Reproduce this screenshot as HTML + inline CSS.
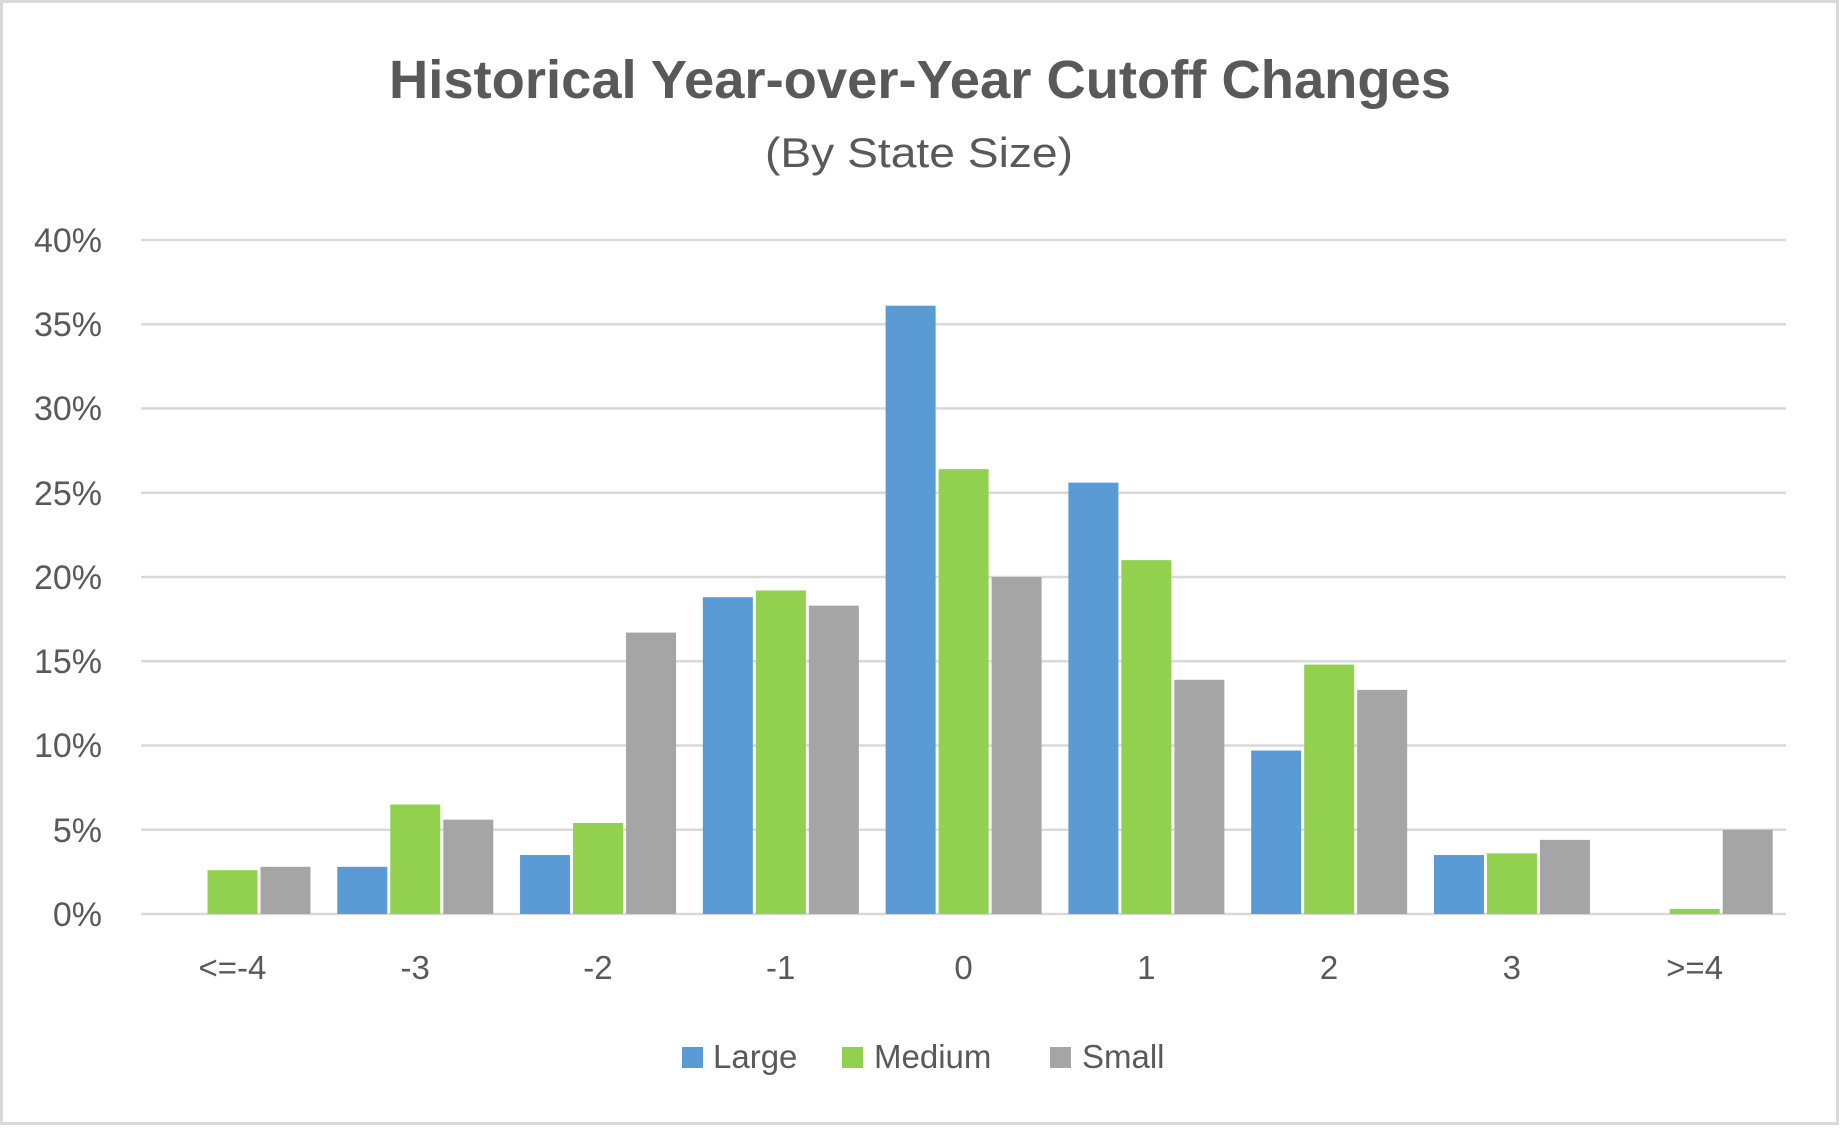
<!DOCTYPE html>
<html><head><meta charset="utf-8"><style>
html,body{margin:0;padding:0;background:#fff;}
svg{display:block;font-family:"Liberation Sans",sans-serif;}
</style></head><body>
<svg width="1842" height="1132" viewBox="0 0 1842 1132" xmlns="http://www.w3.org/2000/svg">
<rect x="1.5" y="1.5" width="1836" height="1122" fill="#fff" stroke="#d9d9d9" stroke-width="3"/>
<text x="920" y="98" text-anchor="middle" font-size="54" font-weight="bold" fill="#595959" textLength="1062" lengthAdjust="spacingAndGlyphs">Historical Year-over-Year Cutoff Changes</text>
<text x="919" y="167" text-anchor="middle" font-size="42" fill="#595959" textLength="308" lengthAdjust="spacingAndGlyphs">(By State Size)</text>
<g stroke="#d9d9d9" stroke-width="2.5">
<line x1="141" x2="1786" y1="240" y2="240"/>
<line x1="141" x2="1786" y1="324.25" y2="324.25"/>
<line x1="141" x2="1786" y1="408.5" y2="408.5"/>
<line x1="141" x2="1786" y1="492.75" y2="492.75"/>
<line x1="141" x2="1786" y1="577" y2="577"/>
<line x1="141" x2="1786" y1="661.25" y2="661.25"/>
<line x1="141" x2="1786" y1="745.5" y2="745.5"/>
<line x1="141" x2="1786" y1="829.75" y2="829.75"/>
<line x1="141" x2="1786" y1="914" y2="914"/>
</g>
<g font-size="34" fill="#595959" text-anchor="end">
<text x="102" y="252">40%</text>
<text x="102" y="336">35%</text>
<text x="102" y="420">30%</text>
<text x="102" y="505">25%</text>
<text x="102" y="589">20%</text>
<text x="102" y="673">15%</text>
<text x="102" y="757">10%</text>
<text x="102" y="842">5%</text>
<text x="102" y="926">0%</text>
</g>
<g id="bars"></g>
<g font-size="33" fill="#595959" text-anchor="middle" id="xl"></g>
<rect x="682" y="1047" width="21" height="21" fill="#5B9BD5"/>
<text x="713" y="1068" font-size="33" fill="#595959">Large</text>
<rect x="842" y="1047" width="21" height="21" fill="#92D050"/>
<text x="874" y="1068" font-size="33" fill="#595959">Medium</text>
<rect x="1050" y="1047" width="21" height="21" fill="#A5A5A5"/>
<text x="1082" y="1068" font-size="33" fill="#595959">Small</text>
<script>
var data=[[0,2.6,2.8],[2.8,6.5,5.6],[3.5,5.4,16.7],[18.8,19.2,18.3],[36.1,26.4,20.0],[25.6,21.0,13.9],[9.7,14.8,13.3],[3.5,3.6,4.4],[0,0.3,5.0]];
var labels=["<=-4","-3","-2","-1","0","1","2","3",">=4"];
var cols=["#5B9BD5","#92D050","#A5A5A5"];
var ns="http://www.w3.org/2000/svg";
var g=document.getElementById("bars"),xl=document.getElementById("xl");
var cw=(1786-141)/9;
for(var i=0;i<9;i++){
 var x0=141+i*cw+13.5;
 for(var j=0;j<3;j++){
  var v=data[i][j]; if(v<=0) continue;
  var h=v*16.85;
  var r=document.createElementNS(ns,"rect");
  r.setAttribute("x",x0+j*53);r.setAttribute("y",914-h);
  r.setAttribute("width",50);r.setAttribute("height",h);
  r.setAttribute("fill",cols[j]);g.appendChild(r);
 }
 var t=document.createElementNS(ns,"text");
 t.setAttribute("x",141+i*cw+cw/2);t.setAttribute("y",979);
 t.textContent=labels[i];xl.appendChild(t);
}
</script>
</svg>
</body></html>
